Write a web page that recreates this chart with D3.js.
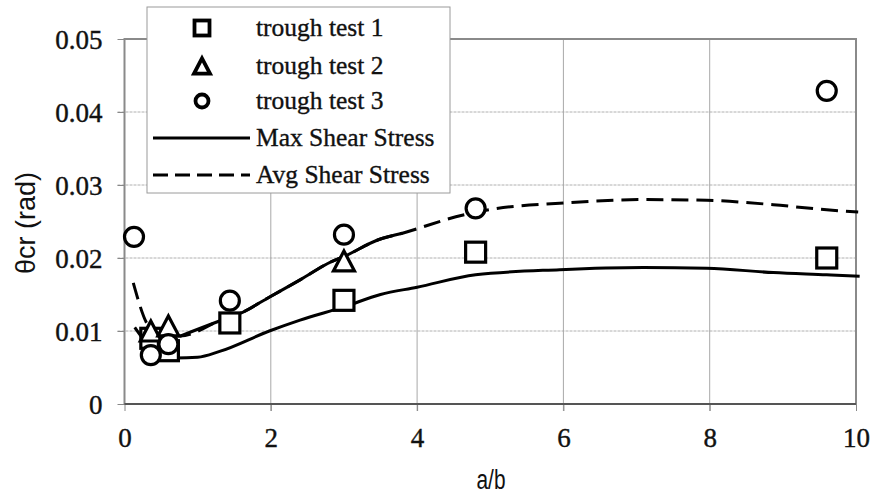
<!DOCTYPE html>
<html><head><meta charset="utf-8">
<script src="https://cdn.jsdelivr.net/npm/d3@7"></script>
<style>
html,body{margin:0;padding:0;background:#fff;}
svg{display:block;}
</style></head>
<body>
<svg id="chart" width="876" height="496"></svg>
<script>
// ---- data ----
const xTicks = [0, 2, 4, 6, 8, 10];
const yTicks = [0, 0.01, 0.02, 0.03, 0.04, 0.05];
const yTickLabels = ["0", "0.01", "0.02", "0.03", "0.04", "0.05"];

const test1X = [0.36, 0.6, 1.44, 3.0, 4.8, 9.6];
const test1Y = [0.0090, 0.0073, 0.0111, 0.0142, 0.0208, 0.0200];

const test2X = [0.36, 0.6, 3.0];
const test2Y = [0.0100, 0.0107, 0.0196];

const test3X = [0.13, 0.36, 0.6, 1.44, 3.0, 4.8, 9.6];
const test3Y = [0.0229, 0.0067, 0.0082, 0.01415, 0.0232, 0.0268, 0.0429];

const maxX = [0.14, 0.25, 0.45, 0.7, 1.0, 1.3, 1.98, 2.4, 3.0, 3.5, 4.0, 4.8, 5.95, 7.09, 7.96, 8.87, 9.6, 10.05];
const maxY = [0.0105, 0.0090, 0.0072, 0.0063, 0.0064, 0.0072, 0.0100, 0.0115, 0.0133, 0.0150, 0.0160, 0.0177, 0.0184, 0.0187, 0.0186, 0.0180, 0.0177, 0.0175];

const avgX = [0.12, 0.32, 0.5, 0.76, 1.28, 1.58, 1.99, 2.40, 2.83, 3.0, 3.47, 3.8, 4.63, 5.04, 5.95, 7.09, 7.96, 8.87, 9.6, 10.03];
const avgY = [0.0166, 0.0108, 0.0094, 0.0093, 0.0113, 0.0124, 0.0147, 0.0170, 0.0195, 0.0202, 0.0225, 0.0234, 0.0259, 0.0267, 0.0275, 0.0280, 0.0279, 0.0273, 0.0266, 0.0263];
const avgSolidFrom = 0.7, avgSolidTo = 3.85;

const legendLabels = ["trough test 1", "trough test 2", "trough test 3", "Max Shear Stress", "Avg Shear Stress"];

// ---- layout ----
const svg = d3.select("#chart");
const L = 124.5, R = 856, T = 39, B = 404;
const x = d3.scaleLinear().domain([0, 10]).range([L, R]);
const y = d3.scaleLinear().domain([0, 0.05]).range([B, T]);
const serif = "'Liberation Serif','Times New Roman',serif";
const sans = "'Liberation Sans',Arial,sans-serif";

// gridlines
svg.append("g").selectAll("line").data(yTicks.slice(1, -1)).join("line")
  .attr("x1", L - 7).attr("x2", R).attr("y1", d => y(d)).attr("y2", d => y(d))
  .attr("stroke", "#b0b0b0").attr("stroke-width", 1).attr("stroke-dasharray", "3,1");
svg.append("g").selectAll("line").data(xTicks.slice(1, -1)).join("line")
  .attr("x1", d => x(d)).attr("x2", d => x(d)).attr("y1", T).attr("y2", B + 7)
  .attr("stroke", "#a8a8a8").attr("stroke-width", 1);

// axes with tick labels
const yAxis = d3.axisLeft(y).tickValues(yTicks).tickFormat((d, i) => yTickLabels[i]).tickSize(7).tickPadding(15);
const gy = svg.append("g").attr("transform", `translate(${L},0)`).call(yAxis);
gy.select(".domain").remove();
gy.selectAll(".tick line").attr("stroke", "#888");
gy.selectAll("text").style("font-family", serif).style("font-size", "27px").attr("fill", "#111")
  .attr("stroke", "#111").attr("stroke-width", 0.4).attr("dy", "0.34em");

const xAxis = d3.axisBottom(x).tickValues(xTicks).tickFormat(d3.format("d")).tickSize(7).tickPadding(17);
const gx = svg.append("g").attr("transform", `translate(0,${B})`).call(xAxis);
gx.select(".domain").remove();
gx.selectAll(".tick line").attr("stroke", "#888");
gx.selectAll("text").style("font-family", serif).style("font-size", "27px").attr("fill", "#111")
  .attr("stroke", "#111").attr("stroke-width", 0.4);

// plot border
svg.append("rect").attr("x", L).attr("y", T).attr("width", R - L).attr("height", B - T)
  .attr("fill", "none").attr("stroke", "#8a8a8a").attr("stroke-width", 2);
svg.append("line").attr("x1", L).attr("x2", R).attr("y1", B).attr("y2", B)
  .attr("stroke", "#555").attr("stroke-width", 2);

// axis titles
svg.append("text").attr("x", 491).attr("y", 489).attr("text-anchor", "middle")
  .attr("textLength", 29).attr("lengthAdjust", "spacingAndGlyphs")
  .style("font-family", sans).style("font-size", "27px").attr("fill", "#111").text("a/b");
svg.append("text").attr("transform", "translate(35,223) rotate(-90)").attr("text-anchor", "middle")
  .attr("textLength", 102).attr("lengthAdjust", "spacingAndGlyphs")
  .style("font-family", sans).style("font-size", "27px").attr("fill", "#111").text("θcr (rad)");

// curves
const line = d3.line().x(d => x(d[0])).y(d => y(d[1])).curve(d3.curveMonotoneX);
const maxData = maxX.map((v, i) => [v, maxY[i]]);
const avgData = avgX.map((v, i) => [v, avgY[i]]);
svg.append("path").datum(maxData).attr("d", line)
  .attr("fill", "none").attr("stroke", "#000").attr("stroke-width", 3);
svg.append("path").datum(avgData).attr("d", line)
  .attr("fill", "none").attr("stroke", "#000").attr("stroke-width", 3).attr("stroke-dasharray", "17,8");
svg.append("path").datum(avgData.filter(d => d[0] >= avgSolidFrom && d[0] <= avgSolidTo)).attr("d", line)
  .attr("fill", "none").attr("stroke", "#000").attr("stroke-width", 3);

// markers
function square(g, cx, cy, s, sw) {
  g.append("rect").attr("x", cx - s / 2).attr("y", cy - s / 2).attr("width", s).attr("height", s)
    .attr("fill", "#fff").attr("stroke", "#000").attr("stroke-width", sw);
}
function tri(g, cx, cy, s, sw) {
  const h = s * 0.95;
  g.append("path").attr("d", `M${cx},${cy - h / 2}L${cx + s / 2},${cy + h / 2}L${cx - s / 2},${cy + h / 2}Z`)
    .attr("fill", "#fff").attr("stroke", "#000").attr("stroke-width", sw).attr("stroke-linejoin", "miter");
}
function circ(g, cx, cy, s, sw) {
  g.append("circle").attr("cx", cx).attr("cy", cy).attr("r", s / 2)
    .attr("fill", "#fff").attr("stroke", "#000").attr("stroke-width", sw);
}
const gm = svg.append("g");
test1X.forEach((v, i) => square(gm, x(v), y(test1Y[i]), 20, 3.2));
test2X.forEach((v, i) => tri(gm, x(v), y(test2Y[i]), 21, 3.2));
test3X.forEach((v, i) => circ(gm, x(v), y(test3Y[i]), 19, 3.2));

// legend
const lg = svg.append("g");
lg.append("rect").attr("x", 147).attr("y", 7).attr("width", 303).attr("height", 186)
  .attr("fill", "#fff").attr("stroke", "#9a9a9a").attr("stroke-width", 1);
const rowY = [28, 66, 101, 138, 175];
square(lg, 202, rowY[0], 15, 3.8);
tri(lg, 202, rowY[1], 16, 3.8);
circ(lg, 202, rowY[2], 13, 3.8);
lg.append("line").attr("x1", 153).attr("x2", 250).attr("y1", rowY[3]).attr("y2", rowY[3])
  .attr("stroke", "#000").attr("stroke-width", 2.8);
lg.append("line").attr("x1", 153).attr("x2", 250).attr("y1", rowY[4]).attr("y2", rowY[4])
  .attr("stroke", "#000").attr("stroke-width", 2.8).attr("stroke-dasharray", "15,7");
legendLabels.forEach((t, i) => {
  lg.append("text").attr("x", 256).attr("y", rowY[i]).attr("dy", "0.32em")
    .style("font-family", serif).style("font-size", "25.5px").attr("fill", "#111")
    .attr("stroke", "#111").attr("stroke-width", 0.35).text(t);
});
</script>
</body></html>
